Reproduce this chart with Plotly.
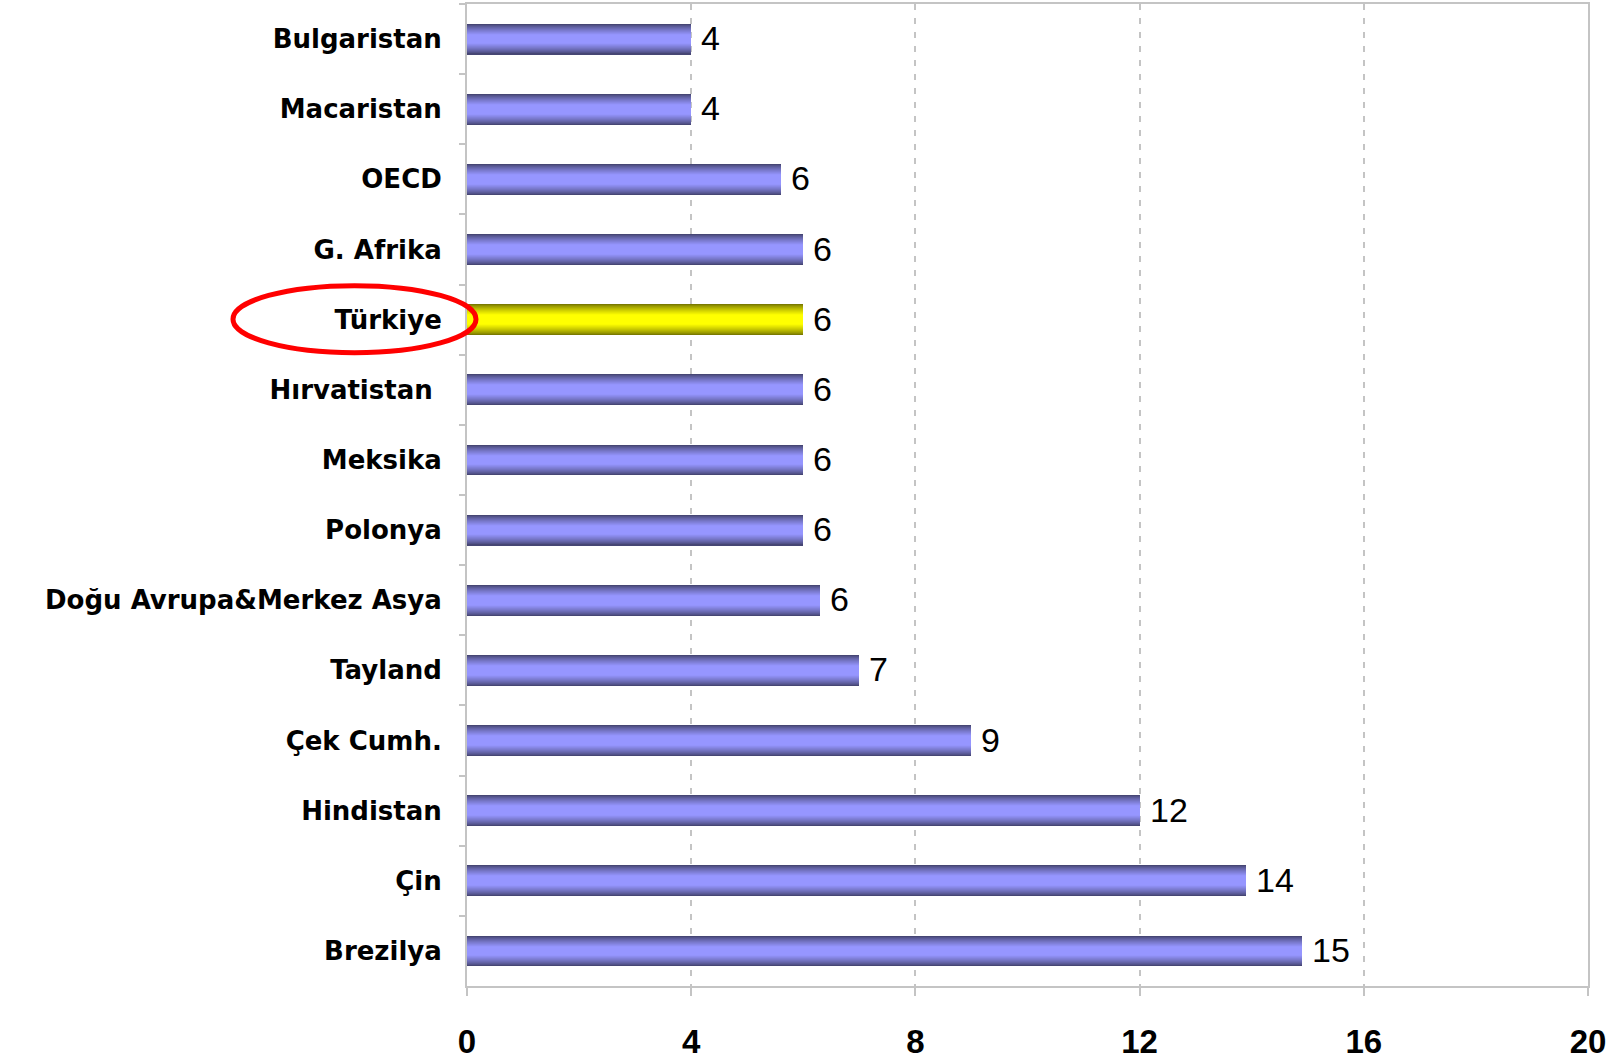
import plotly.graph_objects as go

# ---- data ----
categories = ["Bulgaristan", "Macaristan", "OECD", "G. Afrika", "Türkiye", "Hırvatistan\u00a0",
              "Meksika", "Polonya", "Doğu Avrupa&Merkez Asya", "Tayland", "Çek Cumh.",
              "Hindistan", "Çin", "Brezilya"]
values = [4.0, 4.0, 5.6, 6.0, 6.0, 6.0, 6.0, 6.0, 6.3, 7.0, 9.0, 12.0, 13.9, 14.9]
highlight = "Türkiye"
x_ticks = [0, 4, 8, 12, 16, 20]

# ---- layout constants ----
W, H = 1616, 1060
ML, MR, MT, MB = 467, 28, 4, 74
PW, PH = W - ML - MR, H - MT - MB

def lerp(c1, c2, t):
    return "#%02x%02x%02x" % tuple(round(a + (b - a) * t) for a, b in zip(c1, c2))

blue_dark, blue_light = (0x46, 0x46, 0x74), (0x96, 0x96, 0xff)
yel_dark, yel_light = (0x7a, 0x7a, 0x00), (0xff, 0xff, 0x00)

fig = go.Figure()
n_layers = 14
max_w = 0.44
for i in range(n_layers):
    t = i / (n_layers - 1)
    w = max_w * (1 - 0.85 * t)
    tt = min(1.0, (t / 0.8) ** 0.8)
    colors = [lerp(yel_dark, yel_light, tt) if c == highlight else lerp(blue_dark, blue_light, tt)
              for c in categories]
    fig.add_trace(go.Bar(
        x=values, y=categories, orientation="h", width=w,
        marker=dict(color=colors, line=dict(width=0)),
        hoverinfo="skip", showlegend=False,
    ))

for c, v in zip(categories, values):
    fig.add_annotation(x=v, y=c, text=f"{v:.0f}", showarrow=False, xanchor="left",
                       xshift=8, yshift=1,
                       font=dict(family="Liberation Sans, Arial", size=34, color="black"))

# red ellipse around highlighted label (paper coords derived from pixels of the label area)
cy_idx = categories.index(highlight)
row_h = PH / len(categories)
cy = MT + row_h * (cy_idx + 0.5)
ex0, ex1 = 233, 476
ey0, ey1 = cy - 34, cy + 33
fig.add_shape(type="circle", xref="paper", yref="paper",
              x0=(ex0 - ML) / PW, x1=(ex1 - ML) / PW,
              y0=(H - MB - ey1) / PH, y1=(H - MB - ey0) / PH,
              line=dict(color="#ff0000", width=5), layer="above")

fig.update_layout(
    width=W, height=H, margin=dict(l=ML, r=MR, t=MT, b=MB, autoexpand=False),
    barmode="overlay", bargap=0,
    plot_bgcolor="white", paper_bgcolor="white",
    xaxis=dict(range=[0, 20], tickvals=x_ticks, showgrid=True, gridcolor="#c4c4c4",
               gridwidth=2, griddash="6px,8px", zeroline=False, automargin=False,
               showline=True, linecolor="#c4c4c4", linewidth=2, mirror=True,
               ticks="outside", ticklen=8, tickwidth=2, tickcolor="#c4c4c4",
               ticklabelstandoff=17,
               tickfont=dict(family="Liberation Sans, Arial", size=33, color="black", weight="bold")),
    yaxis=dict(categoryorder="array", categoryarray=categories, autorange="reversed",
               showline=True, linecolor="#c4c4c4", linewidth=2, mirror=True, automargin=False,
               showgrid=False, ticks="outside", tickson="boundaries", ticklen=6,
               tickwidth=2, tickcolor="#c4c4c4", ticklabelstandoff=18,
               tickfont=dict(family="DejaVu Sans", size=26, color="black", weight="bold")),
)

fig.write_html("out.html", config={"displayModeBar": False},
               post_script="document.body.style.margin='0';document.body.style.overflow='hidden';")
